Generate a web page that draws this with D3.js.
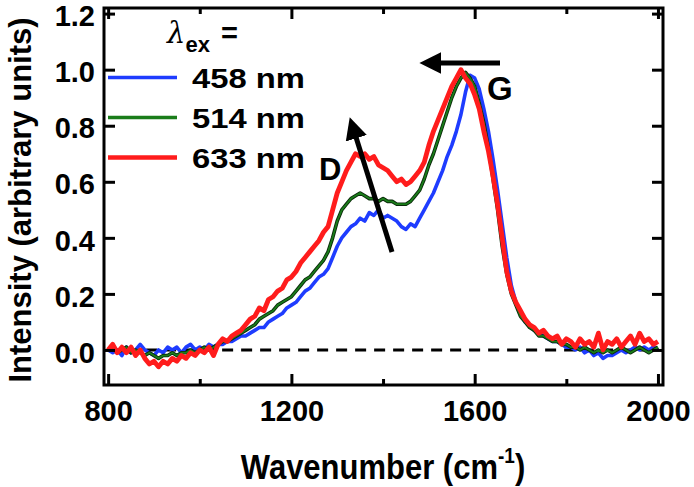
<!DOCTYPE html>
<html><head><meta charset="utf-8">
<script src="https://cdn.jsdelivr.net/npm/d3@7"></script>
<style>body{margin:0;background:#fff}svg{display:block}text{font-family:"Liberation Sans",Arial,sans-serif;font-weight:bold;fill:#000}</style>
</head><body><svg id="c" width="694" height="487"></svg>
<script>
const wavenumbers = d3.range(800, 2001, 10);
const series458 = [0.00,-0.01,0.00,-0.02,0.01,-0.01,0.00,0.02,0.00,-0.01,-0.02,0.00,-0.01,0.01,0.00,0.01,-0.01,0.01,0.02,0.00,
0.01,0.00,0.02,0.01,0.02,0.02,0.03,0.03,0.04,0.05,0.05,0.06,0.07,0.08,0.08,0.10,0.11,0.12,0.13,0.15,
0.16,0.17,0.19,0.21,0.22,0.24,0.26,0.27,0.29,0.33,0.37,0.40,0.42,0.44,0.45,0.47,0.46,0.49,0.48,0.50,
0.47,0.48,0.47,0.46,0.44,0.43,0.45,0.44,0.47,0.50,0.53,0.56,0.60,0.64,0.69,0.73,0.78,0.84,0.92,0.98,
0.97,0.93,0.86,0.78,0.68,0.57,0.45,0.33,0.23,0.17,0.13,0.10,0.09,0.07,0.06,0.05,0.04,0.03,0.03,0.02,
0.01,0.01,0.00,0.01,-0.01,0.00,-0.02,-0.01,-0.03,-0.02,-0.02,-0.01,0.00,-0.01,0.00,0.01,0.00,0.01,0.00,0.01,0.00];
const series514 = [0.00,0.01,-0.01,0.00,0.01,-0.01,0.00,-0.01,-0.02,-0.01,-0.02,-0.03,-0.02,-0.02,-0.01,-0.02,-0.01,-0.01,0.00,-0.01,
0.00,0.01,0.00,0.01,0.02,0.03,0.03,0.04,0.05,0.06,0.07,0.08,0.09,0.11,0.12,0.13,0.14,0.16,0.17,0.18,
0.19,0.21,0.23,0.25,0.26,0.28,0.30,0.32,0.35,0.40,0.46,0.50,0.52,0.54,0.55,0.56,0.55,0.54,0.54,0.53,
0.54,0.53,0.53,0.52,0.52,0.52,0.53,0.55,0.57,0.61,0.66,0.70,0.75,0.80,0.85,0.90,0.94,0.97,0.99,0.97,
0.94,0.88,0.81,0.72,0.61,0.50,0.37,0.27,0.20,0.16,0.12,0.10,0.08,0.07,0.05,0.05,0.04,0.03,0.03,0.02,
0.02,0.01,0.01,0.00,0.01,0.00,-0.01,0.00,-0.01,0.00,-0.01,0.00,0.01,0.00,-0.01,0.00,0.01,0.00,-0.01,0.00,0.01];
const series633 = [0.00,0.02,-0.01,0.01,-0.01,0.01,-0.02,0.00,-0.03,-0.05,-0.04,-0.06,-0.04,-0.05,-0.03,-0.04,-0.02,-0.03,-0.01,-0.02,
0.00,-0.01,0.01,-0.02,0.02,0.04,0.03,0.05,0.06,0.07,0.09,0.11,0.12,0.15,0.14,0.18,0.19,0.21,0.22,0.25,
0.26,0.28,0.31,0.33,0.35,0.37,0.39,0.42,0.44,0.50,0.56,0.60,0.64,0.67,0.70,0.69,0.70,0.68,0.69,0.66,
0.65,0.64,0.62,0.60,0.61,0.59,0.60,0.62,0.64,0.67,0.73,0.78,0.82,0.86,0.90,0.94,0.97,1.00,0.97,0.95,
0.91,0.86,0.78,0.71,0.62,0.52,0.40,0.28,0.21,0.17,0.14,0.11,0.09,0.08,0.06,0.07,0.05,0.04,0.05,0.02,
0.04,0.03,0.01,0.04,0.02,0.03,0.01,0.06,0.00,0.03,0.02,0.04,0.01,0.03,0.05,0.02,0.06,0.03,0.04,0.02,0.03];
const legendLabels = ["458 nm","514 nm","633 nm"];
const colors = ["#1e3cff","#1a7d1a","#ff1c1c"];
const xMajor = [800,1200,1600,2000];
const xMinor = [1000,1400,1800];
const yTicks = [0.0,0.2,0.4,0.6,0.8,1.0,1.2];

const svg = d3.select("#c");
const L=104,R=663,T=8,B=385;
const x = d3.scaleLinear().domain([791,2011]).range([L,R]);
const y = d3.scaleLinear().domain([-0.125,1.22]).range([B,T]);

// zero dashed line
svg.append("line").attr("x1",x(800)).attr("x2",x(2000)).attr("y1",y(0)).attr("y2",y(0))
  .attr("stroke","#000").attr("stroke-width",3).attr("stroke-dasharray","11,8");

// curves
const allSeries=[series458,series514,series633];
const widths=[3.6,3,4.8];
const line=d3.line().x((d,i)=>x(wavenumbers[i])).y(d=>y(d));
allSeries.forEach((s,k)=>{
  if(k===1){
    svg.append("path").datum(s).attr("d",line).attr("fill","none").attr("stroke","#0a2a0a").attr("stroke-width",3.6).attr("stroke-linejoin","round");
    svg.append("path").datum(s).attr("d",line).attr("fill","none").attr("stroke",colors[k]).attr("stroke-width",1.8).attr("stroke-linejoin","round");
  } else {
    svg.append("path").datum(s).attr("d",line).attr("fill","none").attr("stroke",colors[k]).attr("stroke-width",widths[k]).attr("stroke-linejoin","round");
  }
});

// axes
const fs=29;
const gx=svg.append("g").attr("transform",`translate(0,${B})`)
  .call(d3.axisBottom(x).tickValues(xMajor).tickSizeInner(-11).tickSizeOuter(0).tickPadding(15).tickFormat(d3.format("d")));
const gxm=svg.append("g").attr("transform",`translate(0,${B})`)
  .call(d3.axisBottom(x).tickValues(xMinor).tickSizeInner(-6).tickSizeOuter(0).tickFormat(""));
const gt=svg.append("g").attr("transform",`translate(0,${T})`)
  .call(d3.axisTop(x).tickValues(xMajor).tickSizeInner(-11).tickSizeOuter(0).tickFormat(""));
const gtm=svg.append("g").attr("transform",`translate(0,${T})`)
  .call(d3.axisTop(x).tickValues(xMinor).tickSizeInner(-6).tickSizeOuter(0).tickFormat(""));
const gy=svg.append("g").attr("transform",`translate(${L},0)`)
  .call(d3.axisLeft(y).tickValues(yTicks).tickSizeInner(-11).tickSizeOuter(0).tickPadding(9).tickFormat(d3.format(".1f")));
const gr=svg.append("g").attr("transform",`translate(${R},0)`)
  .call(d3.axisRight(y).tickValues(yTicks).tickSizeInner(-11).tickSizeOuter(0).tickFormat(""));
[gx,gxm,gt,gtm,gy,gr].forEach(g=>{
  g.select(".domain").remove();
  g.selectAll(".tick line").attr("stroke","#000").attr("stroke-width",3);
  g.selectAll(".tick text").attr("font-size",fs).attr("font-family","Liberation Sans, Arial, sans-serif").attr("font-weight","bold").attr("fill","#000");
});
gy.selectAll(".tick text").attr("dy","0.42em");
svg.append("rect").attr("x",L).attr("y",T).attr("width",R-L).attr("height",B-T)
  .attr("fill","none").attr("stroke","#000").attr("stroke-width",3);

// axis titles
svg.append("text").attr("transform","translate(383,479) scale(1,1.12)").attr("text-anchor","middle").attr("font-size",31)
  .html('Wavenumber (cm<tspan dy="-14" font-size="19">-1</tspan><tspan dy="14">)</tspan>');
svg.append("text").attr("transform","translate(31,200) rotate(-90)").attr("text-anchor","middle").attr("font-size",31)
  .text("Intensity (arbitrary units)");

// legend
const lg=svg.append("g");
lg.append("text").attr("x",167).attr("y",43).attr("font-size",29)
  .html('<tspan font-style="italic" font-family="DejaVu Serif" font-weight="normal">λ</tspan><tspan dy="9" font-size="22">ex</tspan><tspan dy="-9" dx="11">=</tspan>');
const ly=[77.5,117.5,157.5];
legendLabels.forEach((t,i)=>{
  lg.append("line").attr("x1",108).attr("x2",177).attr("y1",ly[i]).attr("y2",ly[i])
    .attr("stroke",colors[i]).attr("stroke-width",i===2?4.5:3.5);
  lg.append("text").attr("transform",`translate(192,${ly[i]+10.5}) scale(1.17,1)`).attr("font-size",28).text(t);
});

// annotations
const defs=svg.append("defs");
defs.append("marker").attr("id","ah").attr("viewBox","0 0 10 10").attr("refX",2).attr("refY",5)
  .attr("markerWidth",4.4).attr("markerHeight",4.4).attr("orient","auto-start-reverse").attr("markerUnits","strokeWidth")
  .append("path").attr("d","M0,0 L10,5 L0,10 Z").attr("fill","#000");
svg.append("line").attr("x1",500).attr("y1",63).attr("x2",437).attr("y2",63)
  .attr("stroke","#000").attr("stroke-width",5).attr("marker-end","url(#ah)");
svg.append("line").attr("x1",392).attr("y1",252).attr("x2",355).attr("y2",134)
  .attr("stroke","#000").attr("stroke-width",5).attr("marker-end","url(#ah)");
svg.append("text").attr("x",319).attr("y",180).attr("font-size",31).text("D");
svg.append("text").attr("x",487).attr("y",100).attr("font-size",33).text("G");
</script></body></html>
